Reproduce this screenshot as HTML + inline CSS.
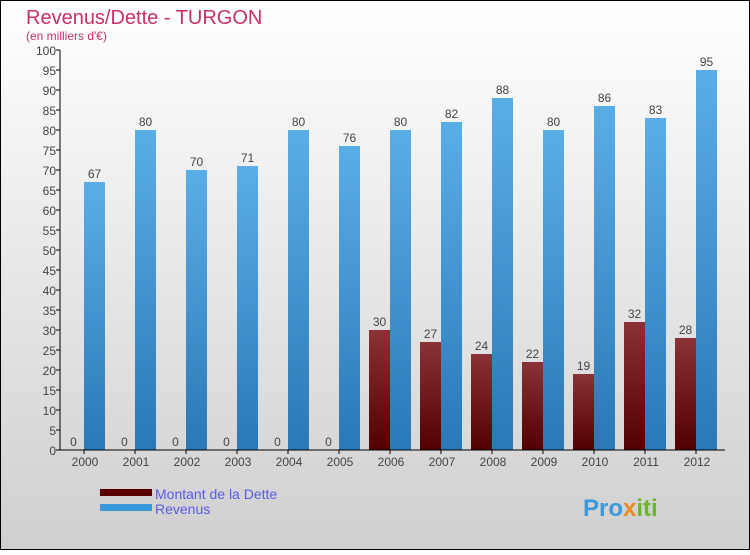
<!DOCTYPE html>
<html><head><meta charset="utf-8"><style>
body{margin:0;width:750px;height:550px;overflow:hidden;font-family:"Liberation Sans",sans-serif}
</style></head><body>
<svg width="750" height="550" xmlns="http://www.w3.org/2000/svg">
<defs>
<linearGradient id="bg" x1="0" y1="0" x2="0" y2="1"><stop offset="0" stop-color="#ffffff"/><stop offset="1" stop-color="#cfcfcf"/></linearGradient>
<linearGradient id="gr" x1="0" y1="0" x2="0" y2="1"><stop offset="0" stop-color="#5aaee8"/><stop offset="1" stop-color="#2a78b6"/></linearGradient>
<linearGradient id="gd" x1="0" y1="0" x2="0" y2="1"><stop offset="0" stop-color="#8a3236"/><stop offset="1" stop-color="#520000"/></linearGradient>
</defs>
<rect x="0.5" y="0.5" width="749" height="549" fill="url(#bg)" stroke="#000"/>
<text x="26" y="24" font-size="20" fill="#c8306a">Revenus/Dette - TURGON</text>
<text x="26" y="40" font-size="12" fill="#c8306a">(en milliers d'€)</text>
<g id="plot"></g>
<rect x="100" y="489" width="52" height="7" fill="#5a0000"/>
<text x="155" y="499" font-size="14" fill="#5a5ae8">Montant de la Dette</text>
<rect x="100" y="504" width="52" height="7" fill="#3a98dc"/>
<text x="155" y="514" font-size="14" fill="#5a5ae8">Revenus</text>
<text x="583" y="516" font-size="24" font-weight="bold" fill="#3a98dc">Pro<tspan fill="#e88a20">x</tspan><tspan fill="#6ab82a">iti</tspan></text>
</svg>
<script>
const categories=["2000","2001","2002","2003","2004","2005","2006","2007","2008","2009","2010","2011","2012"];
const dette=[0,0,0,0,0,0,30,27,24,22,19,32,28];
const revenus=[67,80,70,71,80,76,80,82,88,80,86,83,95];
const yTicks=[0,5,10,15,20,25,30,35,40,45,50,55,60,65,70,75,80,85,90,95,100];
const NS="http://www.w3.org/2000/svg";
const g=document.getElementById('plot');
const y=v=>450-v*4;
const xc=i=>84+i*51;
function mk(t,a,txt){const e=document.createElementNS(NS,t);for(const k in a)e.setAttribute(k,a[k]);if(txt!=null)e.textContent=txt;g.appendChild(e);return e;}
yTicks.forEach(v=>{
 const l=mk('line',{x1:56,x2:60,y1:y(v),y2:y(v),stroke:'#000'});
 
 
 const t=mk('text',{x:56,y:y(v)+5,'text-anchor':'end','font-size':12,fill:'#444'},v);
 
 
});
categories.forEach((c,i)=>{
 const cx=xc(i);
 const bd=mk('rect',{x:cx-21,y:y(dette[i]),width:21,height:dette[i]*4,fill:'url(#gd)'});
 
 
 const br=mk('rect',{x:cx,y:y(revenus[i]),width:21,height:revenus[i]*4,fill:'url(#gr)'});
 
 
 const vd=mk('text',{x:cx-10.5,y:y(dette[i])-4,'text-anchor':'middle','font-size':12,fill:'#444'},dette[i]);
 
 
 const vr=mk('text',{x:cx+10.5,y:y(revenus[i])-4,'text-anchor':'middle','font-size':12,fill:'#444'},revenus[i]);
 
 
 const tk=mk('line',{x1:cx,x2:cx,y1:450,y2:454,stroke:'#000'});
 
 
 const xl=mk('text',{x:cx+1,y:466,'text-anchor':'middle','font-size':12,fill:'#444'},c);
 
 
});
const ya=mk('line',{x1:60,x2:60,y1:50,y2:450,stroke:'#000'});


const xa=mk('line',{x1:60,x2:725,y1:450,y2:450,stroke:'#000'});


</script>
</body></html>
